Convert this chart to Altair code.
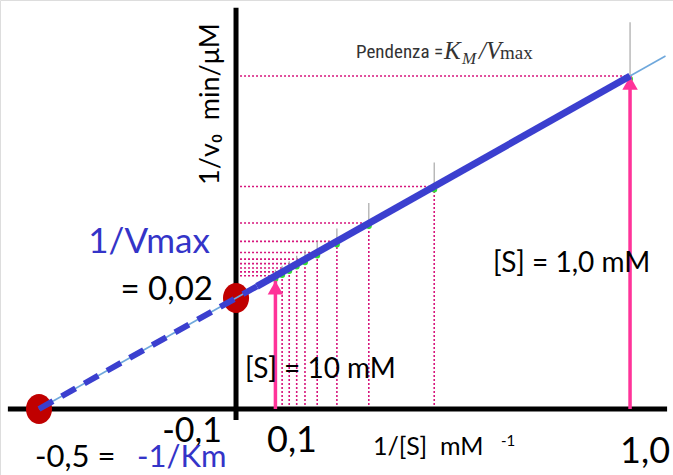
import altair as alt
import pandas as pd

# ---- data ----
inv_s = [0.1, 0.117, 0.135, 0.154, 0.175, 0.206, 0.256, 0.337, 0.503, 1.0]
inv_v = [0.0240, 0.0247, 0.0254, 0.0262, 0.0270, 0.0282, 0.0302, 0.0335, 0.0401, 0.0600]
err_up = [0.0011, 0.0011, 0.0012, 0.0014, 0.0016, 0.0020, 0.0023, 0.0036, 0.0043, 0.0097]

intercept_x = [-0.5, 0.0]
intercept_y = [0.0, 0.02]

fit_x = [-0.5, 1.09]
fit_y = [0.0, 0.0636]
dash_x = [-0.5, 0.053]
dash_y = [0.0, 0.0221]
solid_x = [0.053, 1.0]
solid_y = [0.0221, 0.0600]

arrow_x = [0.1, 1.0]
arrow_top = [0.0231, 0.0600]

xaxis_ends = [-0.579, 1.094]
yaxis_ends = [-0.002, 0.0723]

X_DOMAIN = [-0.599, 1.109]
Y_DOMAIN = [-0.01189, 0.07369]

NB = "\u00a0"
# annotation texts (text, x, y in data units)
tick_right = [("-0,1", -0.0355, -0.00595)]
tick_center = [("0,1", 0.1421, -0.00775), ("1,0", 1.0381, -0.00973)]
vmax_label = [("1/Vmax", -0.2208, 0.02811)]
vmax_value = [("=" + NB + "0,02", -0.0584, 0.01964)]
km_black = [("-0,5" + NB + "=", -0.5102, -0.01045)]
km_blue = [("-1/Km", -0.2513, -0.01045)]
s_labels = [("[S]" + NB + "=" + NB + "10" + NB + "mM", 0.0228, 0.00559),
            ("[S]" + NB + "=" + NB + "1,0" + NB + "mM", 0.6523, 0.02468)]
xlabel = [("1/[S]" + NB + NB + "mM", 0.3477, -0.00829)]
xlabel_sup = [("-1", 0.6726, -0.00667)]
ylabel = [("1/v\u2080" + NB + NB + "min/\u03bcM", -0.0635, 0.05495)]
pend = [("Pendenza" + NB + "=", 0.3046, 0.06324)]
pend_big = [("K", 0.5279, 0.06306), ("/V", 0.6168, 0.06306)]
pend_sub_it = [("M", 0.5736, 0.06216)]
pend_sub = [("max", 0.6701, 0.06306)]

xs = alt.Scale(domain=X_DOMAIN, nice=False, zero=False)
ys = alt.Scale(domain=Y_DOMAIN, nice=False, zero=False)


def X(f):
    return alt.X(f, type="quantitative", scale=xs, axis=None)


def Y(f):
    return alt.Y(f, type="quantitative", scale=ys, axis=None)


pts = pd.DataFrame({"x": inv_s, "y": inv_v, "e": [a + b for a, b in zip(inv_v, err_up)],
                    "zero": [0.0] * len(inv_s), "y0": [0.0] * len(inv_s)})

pink_dot = "#d6157c"
dot_h = alt.Chart(pts).mark_rule(color=pink_dot, strokeDash=[2, 2], strokeWidth=1.6).encode(
    x=X("zero"), x2="x:Q", y=Y("y"))
dot_v = alt.Chart(pts).mark_rule(color=pink_dot, strokeDash=[2, 2], strokeWidth=1.6).encode(
    x=X("x"), y=Y("y0"), y2="y:Q")

axes_df_x = pd.DataFrame({"a": [xaxis_ends[0]], "b": [xaxis_ends[1]], "y": [0.0]})
axes_df_y = pd.DataFrame({"a": [yaxis_ends[0]], "b": [yaxis_ends[1]], "x": [0.0]})
ax_x = alt.Chart(axes_df_x).mark_rule(color="black", strokeWidth=5).encode(
    x=X("a"), x2="b:Q", y=Y("y"))
ax_y = alt.Chart(axes_df_y).mark_rule(color="black", strokeWidth=5).encode(
    y=Y("a"), y2="b:Q", x=X("x"))

errs = alt.Chart(pts).mark_rule(color="#a8a8a8", strokeWidth=1.2).encode(
    x=X("x"), y=Y("y"), y2="e:Q")
green = alt.Chart(pts).mark_point(filled=True, color="#33e033", size=36, yOffset=3, opacity=1).encode(
    x=X("x"), y=Y("y"))

arr_df = pd.DataFrame({"x": arrow_x, "top": arrow_top, "y0": [0.0, 0.0]})
arr_line = alt.Chart(arr_df).mark_rule(color="#ff3399", strokeWidth=3.5).encode(
    x=X("x"), y=Y("y0"), y2="top:Q")
arr_head = alt.Chart(arr_df).mark_point(shape="triangle-up", filled=True, color="#ff3399",
                                         size=240, yOffset=7, opacity=1).encode(
    x=X("x"), y=Y("top"))

ell = "M-0.87,0A0.87,1,0,1,1,0.87,0A0.87,1,0,1,1,-0.87,0Z"
red = alt.Chart(pd.DataFrame({"x": intercept_x, "y": intercept_y})).mark_point(
    shape=ell, filled=True, color="#c00000", size=900, opacity=1).encode(x=X("x"), y=Y("y"))

thin = alt.Chart(pd.DataFrame({"x": fit_x, "y": fit_y})).mark_line(
    color="#6fa8dc", strokeWidth=1.6).encode(x=X("x"), y=Y("y"))
dashed = alt.Chart(pd.DataFrame({"x": dash_x, "y": dash_y})).mark_line(
    color="#3b3fcf", strokeWidth=6, strokeDash=[16, 10]).encode(x=X("x"), y=Y("y"))
solid = alt.Chart(pd.DataFrame({"x": solid_x, "y": solid_y})).mark_line(
    color="#3b3fcf", strokeWidth=7).encode(x=X("x"), y=Y("y"))


def txt(rows, **kw):
    df = pd.DataFrame(rows, columns=["t", "x", "y"])
    base = dict(baseline="alphabetic")
    base.update(kw)
    return alt.Chart(df).mark_text(**base).encode(x=X("x"), y=Y("y"), text="t:N")


LATO = "Lato, Calibri, sans-serif"
NARROW = "Liberation Sans Narrow, Roboto Condensed, DejaVu Sans Condensed, sans-serif"
SERIF = "Liberation Serif, Times New Roman, serif"
BLUE = "#3434c8"
texts = [
    txt(tick_right, font=LATO, fontSize=34, color="black", align="right"),
    txt(tick_center, font=LATO, fontSize=36, color="black", align="center"),
    txt(vmax_label, font=LATO, fontSize=35, color=BLUE, align="center"),
    txt(vmax_value, font=LATO, fontSize=33, color="black", align="right"),
    txt(km_black, font=LATO, fontSize=31, color="black", align="left"),
    txt(km_blue, font=LATO, fontSize=31, color=BLUE, align="left"),
    txt(s_labels, font=LATO, fontSize=28, color="black", align="left"),
    txt(xlabel, font=LATO, fontSize=25, color="black", align="left"),
    txt(xlabel_sup, font=LATO, fontSize=15, color="black", align="left"),
    txt(ylabel, font=LATO, fontSize=27, color="black", align="center", baseline="middle", angle=270),
    txt(pend, font=NARROW, fontSize=19, color="#333333", align="left"),
    txt(pend_big, font=SERIF, fontStyle="italic", fontSize=25, color="#333333", align="left"),
    txt(pend_sub_it, font=SERIF, fontStyle="italic", fontSize=17, color="#333333", align="left"),
    txt(pend_sub, font=SERIF, fontSize=19, color="#333333", align="left"),
]

chart = alt.layer(
    dot_h, dot_v, ax_x, ax_y, errs, green, arr_line, arr_head, red, thin, dashed, solid, *texts
).properties(
    width=673, height=475, padding=0, autosize=alt.AutoSizeParams(type="none")
).configure_view(stroke=None).configure(background="white")

chart.save("out.html", embed_options={"renderer": "svg", "actions": False})
